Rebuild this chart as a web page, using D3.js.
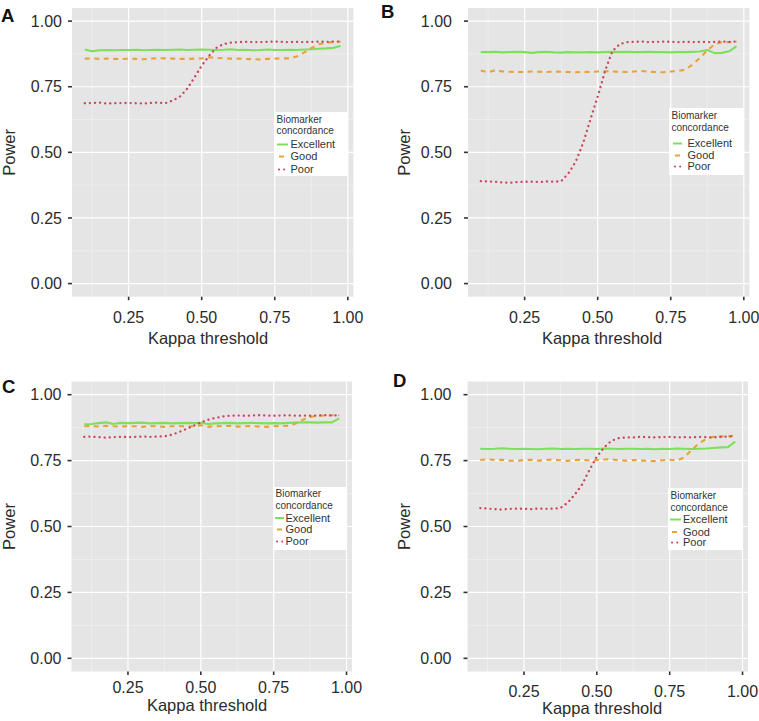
<!DOCTYPE html>
<html>
<head>
<meta charset="utf-8">
<script src="https://cdn.jsdelivr.net/npm/d3@7"></script>
<style>
  html, body { margin: 0; padding: 0; background: #ffffff; }
  svg { display: block; }
  text { font-family: "Liberation Sans", Arial, Helvetica, sans-serif; }
</style>
</head>
<body>
<svg id="chart" width="759" height="721"></svg>
<script>
// ---------------- data ----------------
const kappa = [0.1, 0.125, 0.15, 0.175, 0.2, 0.225, 0.25, 0.275, 0.3, 0.325, 0.35, 0.375,
               0.4, 0.425, 0.45, 0.475, 0.5, 0.525, 0.55, 0.575, 0.6, 0.625, 0.65, 0.675,
               0.7, 0.725, 0.75, 0.775, 0.8, 0.825, 0.85, 0.875, 0.9, 0.925, 0.95, 0.975];
const seriesNames = ["Excellent", "Good", "Poor"];
const panelLetters = ["A", "B", "C", "D"];
const xTicks = [0.25, 0.5, 0.75, 1.0];
const xTickLabels = ["0.25", "0.50", "0.75", "1.00"];
const yTicks = [0, 0.25, 0.5, 0.75, 1.0];
const yTickLabels = ["0.00", "0.25", "0.50", "0.75", "1.00"];
const xMinor = [0.125, 0.375, 0.625, 0.875];
const yMinor = [0.125, 0.375, 0.625, 0.875];
const xTitle = "Kappa threshold";
const yTitle = "Power";
const legendTitle = ["Biomarker", "concordance"];

const excellentA = [0.892,0.885,0.889,0.890,0.889,0.890,0.890,0.891,0.889,0.890,0.891,0.890,
                    0.891,0.892,0.890,0.891,0.892,0.891,0.890,0.891,0.893,0.890,0.891,0.889,
                    0.890,0.892,0.890,0.890,0.891,0.890,0.892,0.893,0.895,0.896,0.898,0.905];
const goodA      = [0.857,0.858,0.856,0.857,0.856,0.855,0.857,0.856,0.855,0.857,0.859,0.858,
                    0.857,0.856,0.856,0.857,0.858,0.862,0.860,0.858,0.857,0.857,0.856,0.855,
                    0.854,0.856,0.857,0.858,0.858,0.865,0.880,0.897,0.912,0.918,0.920,0.922];
const poorA      = [0.687,0.688,0.690,0.686,0.687,0.688,0.688,0.687,0.686,0.688,0.690,0.687,
                    0.697,0.712,0.742,0.785,0.830,0.868,0.898,0.913,0.918,0.920,0.921,0.920,
                    0.920,0.921,0.922,0.921,0.920,0.921,0.920,0.921,0.922,0.921,0.922,0.922];

const excellentB = [0.882,0.882,0.883,0.881,0.882,0.883,0.882,0.879,0.882,0.883,0.881,0.880,
                    0.882,0.881,0.881,0.882,0.881,0.882,0.883,0.882,0.883,0.882,0.882,0.883,
                    0.882,0.882,0.881,0.882,0.882,0.883,0.884,0.890,0.878,0.879,0.885,0.905];
const goodB      = [0.812,0.805,0.813,0.808,0.807,0.806,0.806,0.808,0.807,0.806,0.808,0.807,
                    0.806,0.805,0.807,0.806,0.808,0.809,0.808,0.807,0.806,0.808,0.810,0.807,
                    0.806,0.805,0.808,0.810,0.815,0.835,0.860,0.888,0.912,0.920,0.920,0.922];
const poorB      = [0.390,0.389,0.388,0.385,0.384,0.387,0.388,0.388,0.387,0.389,0.388,0.390,
                    0.420,0.465,0.535,0.625,0.712,0.810,0.885,0.912,0.920,0.921,0.922,0.920,
                    0.921,0.922,0.921,0.920,0.921,0.920,0.921,0.920,0.921,0.922,0.921,0.922];

const excellentC = [0.888,0.889,0.892,0.895,0.889,0.893,0.892,0.893,0.894,0.891,0.892,0.893,
                    0.891,0.892,0.893,0.892,0.893,0.889,0.891,0.892,0.893,0.891,0.892,0.893,
                    0.892,0.891,0.892,0.891,0.893,0.894,0.895,0.895,0.894,0.895,0.895,0.910];
const goodC      = [0.880,0.881,0.879,0.882,0.880,0.879,0.881,0.880,0.878,0.881,0.880,0.878,
                    0.880,0.881,0.879,0.880,0.884,0.878,0.881,0.880,0.882,0.879,0.880,0.881,
                    0.879,0.878,0.880,0.881,0.882,0.890,0.905,0.915,0.920,0.921,0.922,0.922];
const poorC      = [0.840,0.841,0.839,0.837,0.839,0.840,0.839,0.840,0.841,0.840,0.841,0.842,
                    0.848,0.858,0.870,0.882,0.895,0.905,0.912,0.917,0.920,0.921,0.920,0.921,
                    0.922,0.921,0.920,0.921,0.922,0.920,0.921,0.920,0.921,0.922,0.921,0.922];

const excellentD = [0.795,0.794,0.795,0.797,0.795,0.794,0.795,0.794,0.793,0.795,0.796,0.794,
                    0.795,0.794,0.795,0.795,0.794,0.796,0.795,0.794,0.795,0.795,0.794,0.795,
                    0.793,0.795,0.794,0.796,0.795,0.794,0.795,0.796,0.798,0.800,0.801,0.822];
const goodD      = [0.752,0.755,0.752,0.753,0.750,0.749,0.752,0.753,0.750,0.752,0.754,0.751,
                    0.749,0.752,0.753,0.750,0.752,0.754,0.755,0.751,0.750,0.752,0.750,0.749,
                    0.748,0.751,0.753,0.750,0.762,0.790,0.815,0.832,0.840,0.842,0.842,0.845];
const poorD      = [0.570,0.568,0.566,0.564,0.567,0.568,0.567,0.566,0.568,0.567,0.568,0.570,
                    0.590,0.622,0.660,0.715,0.765,0.800,0.825,0.835,0.838,0.838,0.840,0.839,
                    0.838,0.839,0.840,0.838,0.839,0.838,0.840,0.839,0.838,0.840,0.841,0.842];

const panelSeries = [
  [excellentA, goodA, poorA],
  [excellentB, goodB, poorB],
  [excellentC, goodC, poorC],
  [excellentD, goodD, poorD]
];

// ---------------- layout / style ----------------
const layouts = [
  { left: 72,    right: 353.3, top: 8,     bottom: 296.7, labGap: 10, xLabY: 323,   xTitleY: 343.5, xTitleX: 208, yTitleX: 15.3,
    letterX: 1, letterY: 22, leg: { x: 274, y: 112, w: 74, h: 64, t1: 10.5, t2: 22, e: [36, 48, 61], k0: 3, k1: 14, tx: 16.5 } },
  { left: 468,   right: 749.3, top: 8,     bottom: 296.7, labGap: 16, xLabY: 323,   xTitleY: 343.5, xTitleX: 602, yTitleX: 410,
    letterX: 381, letterY: 17.5, leg: { x: 669, y: 108, w: 75, h: 67, t1: 11, t2: 22.5, e: [39, 51, 62], k0: 4, k1: 13, tx: 18.5 } },
  { left: 71.5,  right: 352,   top: 381.5, bottom: 671.5, labGap: 10, xLabY: 693,   xTitleY: 710.5, xTitleX: 207, yTitleX: 15.3,
    letterX: 2, letterY: 393, leg: { x: 273, y: 487, w: 74, h: 63, t1: 10, t2: 22, e: [34.5, 46, 58], k0: 2, k1: 11, tx: 12.5 } },
  { left: 467.5, right: 748,   top: 381.5, bottom: 671.5, labGap: 16, xLabY: 696.5, xTitleY: 714,   xTitleX: 602, yTitleX: 410,
    letterX: 393, letterY: 387, leg: { x: 668, y: 488, w: 74, h: 62, t1: 11, t2: 23, e: [35, 47.5, 58], k0: 2, k1: 13, tx: 15 } }
];

const colors = ["#7EE05A", "#E9A23B", "#C8475A"];
const dashes = [null, "5,4.5", "0.1,5"];
const textColor = "#2b2b2b";

const svg = d3.select("#chart");

layouts.forEach((L, pi) => {
  const g = svg.append("g");
  const x = d3.scaleLinear().domain([0.05625, 1.01875]).range([L.left, L.right]);
  const y = d3.scaleLinear().domain([-0.05, 1.05]).range([L.bottom, L.top]);

  // panel background
  g.append("rect")
    .attr("x", L.left).attr("y", L.top)
    .attr("width", L.right - L.left).attr("height", L.bottom - L.top)
    .attr("fill", "#E5E5E5");

  // minor grid
  g.selectAll(".xminor").data(xMinor).enter().append("line")
    .attr("x1", d => x(d)).attr("x2", d => x(d))
    .attr("y1", L.top).attr("y2", L.bottom)
    .attr("stroke", "#F4F4F4").attr("stroke-width", 0.6);
  g.selectAll(".yminor").data(yMinor).enter().append("line")
    .attr("y1", d => y(d)).attr("y2", d => y(d))
    .attr("x1", L.left).attr("x2", L.right)
    .attr("stroke", "#F4F4F4").attr("stroke-width", 0.6);

  // major grid
  g.selectAll(".xmajor").data(xTicks).enter().append("line")
    .attr("x1", d => x(d)).attr("x2", d => x(d))
    .attr("y1", L.top).attr("y2", L.bottom)
    .attr("stroke", "#FFFFFF").attr("stroke-width", 1.2);
  g.selectAll(".ymajor").data(yTicks).enter().append("line")
    .attr("y1", d => y(d)).attr("y2", d => y(d))
    .attr("x1", L.left).attr("x2", L.right)
    .attr("stroke", "#FFFFFF").attr("stroke-width", 1.2);

  // axes ticks
  g.selectAll(".xtick").data(xTicks).enter().append("line")
    .attr("x1", d => x(d)).attr("x2", d => x(d))
    .attr("y1", L.bottom).attr("y2", L.bottom + 3.5)
    .attr("stroke", "#333").attr("stroke-width", 1.6);
  g.selectAll(".ytick").data(yTicks).enter().append("line")
    .attr("y1", d => y(d)).attr("y2", d => y(d))
    .attr("x1", L.left - 4).attr("x2", L.left)
    .attr("stroke", "#333").attr("stroke-width", 1.6);

  // tick labels
  g.selectAll(".xlab").data(xTicks).enter().append("text")
    .attr("x", d => x(d)).attr("y", L.xLabY)
    .attr("text-anchor", "middle").attr("font-size", 16).attr("fill", textColor)
    .text((d, i) => xTickLabels[i]);
  g.selectAll(".ylab").data(yTicks).enter().append("text")
    .attr("x", L.left - L.labGap).attr("y", d => y(d))
    .attr("dy", "0.36em")
    .attr("text-anchor", "end").attr("font-size", 16).attr("fill", textColor)
    .text((d, i) => yTickLabels[i]);

  // axis titles
  g.append("text")
    .attr("x", L.xTitleX).attr("y", L.xTitleY)
    .attr("text-anchor", "middle").attr("font-size", 16.5).attr("fill", textColor)
    .text(xTitle);
  g.append("text")
    .attr("transform", `translate(${L.yTitleX},${(L.top + L.bottom) / 2}) rotate(-90)`)
    .attr("text-anchor", "middle").attr("font-size", 16.5).attr("fill", textColor)
    .text(yTitle);

  // panel letter
  g.append("text")
    .attr("x", L.letterX).attr("y", L.letterY)
    .attr("font-size", 18.5).attr("font-weight", "bold").attr("fill", "#111")
    .text(panelLetters[pi]);

  // lines
  const lineGen = d3.line().x((d, i) => x(kappa[i])).y(d => y(d));
  panelSeries[pi].forEach((vals, si) => {
    const p = g.append("path")
      .datum(vals)
      .attr("d", lineGen)
      .attr("fill", "none")
      .attr("stroke", colors[si])
      .attr("stroke-width", si === 2 ? 2.3 : 2.1)
      .attr("stroke-linejoin", "round");
    if (dashes[si]) p.attr("stroke-dasharray", dashes[si]);
    if (si === 2) p.attr("stroke-linecap", "round");
  });

  // legend
  const lg = L.leg;
  const leg = g.append("g");
  leg.append("rect")
    .attr("x", lg.x).attr("y", lg.y).attr("width", lg.w).attr("height", lg.h)
    .attr("fill", "#FFFFFF");
  legendTitle.forEach((t, i) => {
    leg.append("text")
      .attr("x", lg.x + 2.5).attr("y", lg.y + (i === 0 ? lg.t1 : lg.t2))
      .attr("font-size", 10).attr("fill", "#333")
      .text(t);
  });
  seriesNames.forEach((name, si) => {
    const by = lg.y + lg.e[si];
    const kl = leg.append("line")
      .attr("x1", lg.x + lg.k0).attr("x2", lg.x + lg.k1)
      .attr("y1", by - 3.5).attr("y2", by - 3.5)
      .attr("stroke", colors[si]).attr("stroke-width", 2);
    if (si === 1) kl.attr("x1", lg.x + lg.k0 + 2).attr("x2", lg.x + lg.k0 + 7);
    if (si === 2) kl.attr("x1", lg.x + lg.k0 + 2).attr("x2", lg.x + lg.k0 + 8)
                    .attr("stroke-dasharray", "0.1,5").attr("stroke-linecap", "round");
    leg.append("text")
      .attr("x", lg.x + lg.tx).attr("y", by)
      .attr("font-size", 11).attr("fill", "#333")
      .text(name);
  });
});
</script>
</body>
</html>
